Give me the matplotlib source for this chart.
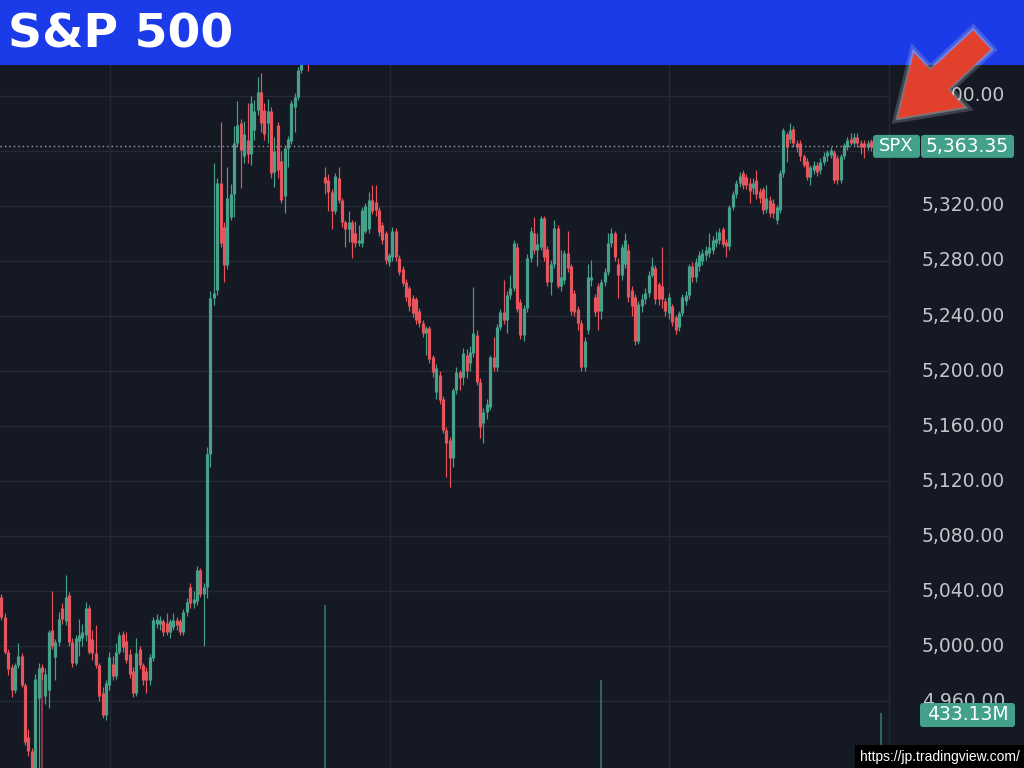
import matplotlib
matplotlib.use('Agg')
import matplotlib.pyplot as plt
from matplotlib.patches import Rectangle, FancyBboxPatch, FancyArrow
import matplotlib.patheffects as pe
import numpy as np

# ---------------- data (price) ----------------
opens = [
    5036, 5021, 4996, 4985, 4968, 4986, 4993, 4972, 4934, 4924,
    4905, 4962, 4985, 4964, 4968, 5012, 4992, 5003, 5028, 5018,
    5037, 5003, 4988, 5004, 5006, 5008, 5028, 5005, 4995, 4986,
    4966, 4950, 4972, 4987, 4978, 4996, 5009, 5004, 4994, 4982,
    4966, 4998, 4986, 4982, 4975, 4991, 5016, 5016, 5018, 5017,
    5010, 5014, 5019, 5018, 5010, 5025, 5043, 5031, 5033, 5055,
    5038, 5043, 5140, 5253, 5259, 5337, 5305, 5277, 5312, 5329,
    5366, 5380, 5356, 5368, 5358, 5375, 5390, 5403, 5390, 5380,
    5389, 5345, 5379, 5353, 5327, 5362, 5367, 5392, 5399, 5419,
    5432, 5445, 5436, 5448, 5452, 5458, 5341, 5339, 5330, 5316,
    5340, 5324, 5308, 5303, 5308, 5300, 5293, 5293, 5302, 5303,
    5324, 5323, 5317, 5306, 5300, 5279, 5283, 5302, 5282, 5274,
    5265, 5260, 5253, 5252, 5244, 5235, 5228, 5231, 5210, 5185,
    5197, 5180, 5157, 5150, 5137, 5186, 5199, 5196, 5212, 5206,
    5213, 5226, 5192, 5162, 5170, 5174, 5210, 5203, 5232, 5243,
    5237, 5255, 5260, 5290, 5250, 5226, 5246, 5282, 5300, 5288,
    5290, 5311, 5289, 5265, 5278, 5304, 5262, 5266, 5286, 5276,
    5257, 5245, 5235, 5203, 5230, 5266, 5254, 5262, 5244, 5265,
    5272, 5293, 5300, 5278, 5270, 5278, 5288, 5259, 5254, 5222,
    5247, 5252, 5257, 5270, 5275, 5263, 5262, 5251, 5242, 5247,
    5239, 5232, 5242, 5251, 5255, 5276, 5268, 5276, 5280, 5284,
    5286, 5288, 5293, 5295, 5303, 5294, 5291, 5319, 5329, 5337,
    5344, 5341, 5337, 5333, 5339, 5331, 5332, 5318, 5324, 5322,
    5310, 5317, 5344, 5372, 5369, 5376, 5366, 5366, 5356, 5353,
    5341, 5346, 5350, 5346, 5352, 5356, 5357, 5359, 5355, 5339,
    5356, 5363, 5369, 5366, 5370, 5366, 5366, 5363, 5367, 5363,
    5365, 5362]
highs = [
    5038, 5024, 4998, 4987, 4988, 5002, 4995, 4973, 4940, 4926,
    4980, 4988, 4987, 4984, 5012, 5040, 5005, 5025, 5031, 5052,
    5039, 5006, 5008, 5020, 5016, 5032, 5030, 5012, 5015, 4988,
    4970, 4975, 4996, 4993, 5002, 5010, 5011, 5010, 4998, 4985,
    5006, 5000, 4988, 4985, 4994, 5021, 5023, 5022, 5020, 5024,
    5020, 5024, 5021, 5020, 5027, 5035, 5046, 5040, 5058, 5057,
    5046, 5145, 5258, 5351, 5340, 5381, 5308, 5348, 5336, 5378,
    5396, 5383, 5382, 5395, 5400, 5397, 5414, 5417, 5395, 5398,
    5392, 5370, 5381, 5360, 5364, 5371, 5397, 5402, 5421, 5440,
    5450, 5452, 5455, 5462, 5466, 5465, 5348, 5343, 5332, 5344,
    5348, 5326, 5310, 5316, 5310, 5309, 5306, 5319, 5322, 5330,
    5335, 5335, 5319, 5308, 5302, 5286, 5305, 5304, 5284, 5276,
    5267, 5262, 5255, 5254, 5246, 5237, 5233, 5233, 5212, 5205,
    5200, 5182, 5159, 5152, 5188, 5203, 5201, 5217, 5216, 5218,
    5261, 5230, 5195, 5173, 5180, 5212, 5225, 5234, 5245, 5266,
    5258, 5270, 5295, 5293, 5252, 5248, 5285, 5305, 5312, 5300,
    5313, 5313, 5291, 5281, 5310, 5306, 5288, 5288, 5302, 5278,
    5259, 5247, 5237, 5225, 5278, 5281, 5256, 5264, 5267, 5275,
    5300, 5304, 5302, 5282, 5292, 5300, 5292, 5262, 5256, 5251,
    5256, 5260, 5273, 5283, 5277, 5265, 5290, 5253, 5257, 5249,
    5241, 5244, 5256, 5258, 5278, 5279, 5282, 5287, 5289, 5291,
    5300, 5298, 5302, 5304, 5305, 5296, 5321, 5331, 5339, 5345,
    5346, 5343, 5340, 5340, 5346, 5333, 5334, 5335, 5327, 5325,
    5321, 5346, 5377, 5374, 5380, 5378, 5368, 5368, 5358, 5355,
    5350, 5353, 5352, 5355, 5359, 5361, 5363, 5361, 5357, 5358,
    5366, 5370, 5373, 5373, 5373, 5368, 5368, 5368, 5369, 5367,
    5366, 5365]
lows = [
    5019, 4994, 4979, 4963, 4966, 4984, 4970, 4928, 4920, 4890,
    4895, 4905, 4975, 4958, 4955, 4998, 4975, 5000, 5016, 5015,
    5000, 4985, 4986, 4993, 5000, 5004, 4994, 4990, 4984, 4960,
    4948, 4946, 4968, 4975, 4976, 4994, 4996, 4988, 4977, 4963,
    4964, 4983, 4972, 4966, 4972, 4989, 5013, 5012, 5007, 5008,
    5006, 5012, 5012, 5008, 5008, 5022, 5028, 5028, 5030, 5036,
    5000, 5035, 5130, 5248, 5255, 5290, 5265, 5274, 5310, 5312,
    5363, 5333, 5351, 5351, 5350, 5368, 5386, 5374, 5368, 5366,
    5340, 5334, 5340, 5322, 5315, 5348, 5365, 5374, 5397, 5417,
    5428, 5418, 5432, 5440, 5445, 5447, 5329, 5316, 5303, 5314,
    5322, 5305, 5290, 5294, 5282, 5290, 5291, 5290, 5300, 5300,
    5314, 5313, 5298, 5292, 5278, 5276, 5280, 5280, 5270, 5262,
    5251, 5244, 5239, 5234, 5232, 5225, 5212, 5206, 5196, 5180,
    5176, 5155, 5123, 5116, 5130, 5183, 5186, 5190, 5195, 5200,
    5210, 5190, 5151, 5148, 5165, 5172, 5200, 5200, 5230, 5234,
    5228, 5252, 5258, 5243, 5223, 5222, 5243, 5279, 5285, 5276,
    5288, 5280, 5262, 5255, 5275, 5260, 5258, 5263, 5272, 5241,
    5240, 5230, 5200, 5200, 5227, 5262, 5240, 5230, 5238, 5262,
    5270, 5290, 5280, 5253, 5266, 5275, 5250, 5240, 5219, 5220,
    5243, 5249, 5254, 5268, 5249, 5248, 5246, 5240, 5238, 5233,
    5227, 5229, 5240, 5248, 5252, 5265, 5265, 5273, 5277, 5281,
    5283, 5285, 5290, 5292, 5290, 5283, 5288, 5317, 5326, 5334,
    5332, 5332, 5322, 5329, 5325, 5322, 5314, 5315, 5312, 5311,
    5307, 5315, 5341, 5352, 5366, 5363, 5359, 5353, 5348, 5339,
    5335, 5343, 5342, 5343, 5350, 5353, 5355, 5337, 5336, 5337,
    5354, 5361, 5364, 5364, 5363, 5358, 5355, 5361, 5360, 5361,
    5360, 5358]
closes = [
    5021, 4996, 4983, 4968, 4986, 4993, 4972, 4930, 4924, 4905,
    4976, 4984, 4981, 4980, 5010, 5000, 5003, 5020, 5020, 5036,
    5003, 4988, 5006, 5008, 5010, 5028, 4996, 4995, 4986, 4964,
    4950, 4973, 4992, 4978, 4996, 5008, 4999, 4990, 4980, 4966,
    4995, 4986, 4975, 4975, 4992, 5019, 5020, 5019, 5010, 5010,
    5018, 5019, 5015, 5010, 5025, 5032, 5031, 5034, 5055, 5038,
    5043, 5140, 5253, 5257, 5337, 5293, 5277, 5326, 5329, 5366,
    5379, 5361, 5372, 5358, 5395, 5389, 5403, 5380, 5372, 5389,
    5344, 5360, 5346, 5324, 5362, 5369, 5395, 5399, 5419, 5432,
    5445, 5436, 5448, 5452, 5458, 5456, 5337, 5330, 5316, 5342,
    5324, 5308, 5303, 5308, 5294, 5293, 5295, 5317, 5320, 5324,
    5316, 5317, 5301, 5295, 5281, 5284, 5302, 5283, 5272, 5264,
    5254, 5247, 5242, 5237, 5235, 5228, 5231, 5209, 5199, 5202,
    5179, 5157, 5148, 5137, 5186, 5199, 5195, 5213, 5200, 5214,
    5228, 5192, 5159, 5170, 5176, 5210, 5203, 5232, 5243, 5237,
    5255, 5260, 5293, 5245, 5226, 5246, 5282, 5302, 5288, 5292,
    5311, 5283, 5265, 5278, 5304, 5262, 5268, 5286, 5275, 5244,
    5243, 5235, 5203, 5222, 5268, 5268, 5243, 5244, 5265, 5272,
    5293, 5300, 5283, 5270, 5290, 5295, 5254, 5247, 5222, 5249,
    5252, 5257, 5270, 5276, 5252, 5252, 5252, 5244, 5254, 5236,
    5230, 5242, 5254, 5255, 5276, 5268, 5279, 5284, 5286, 5288,
    5290, 5295, 5296, 5301, 5292, 5291, 5319, 5329, 5337, 5342,
    5335, 5335, 5331, 5337, 5329, 5326, 5317, 5326, 5315, 5315,
    5319, 5344, 5375, 5363, 5375, 5366, 5363, 5356, 5350, 5341,
    5348, 5350, 5345, 5352, 5356, 5359, 5361, 5339, 5339, 5356,
    5364, 5368, 5366, 5370, 5366, 5363, 5363, 5366, 5363, 5365,
    5362, 5363.35]

# volume spikes visible above the bottom edge (millions)
vol_bar = [12, 96, 178, 261]
vol_val = [662, 971, 598, 433.13]
vol_up = [False, True, True, True]

price_ticks = [4960, 5000, 5040, 5080, 5120, 5160, 5200, 5240,
               5280, 5320, 5360, 5400, 5440]
# 5,360 sits under the last-price tag and 5,440 under the header
label_ticks = [4960, 5000, 5040, 5080, 5120, 5160, 5200, 5240,
               5280, 5320, 5400]
time_grid = [32.2, 115.3, 198.1]   # vertical grid positions (bar units)
symbol = "SPX"
last_price = 5363.35
last_volume_label = "433.13M"
title = "S&P 500"
url = "https://jp.tradingview.com/"

# ---------------- style ----------------
BG = '#151924'
GRID = '#252935'
UP = '#45a18a'
DOWN = '#e5555b'
TAG = '#43a08a'
LBL = '#c3c5cc'

W, H = 1024, 768
Y_TOP, Y_BOT = 5469.8, 4911.3
X_LEFT, X_RIGHT = -0.445, 263.35

fig = plt.figure(figsize=(10.24, 7.68), dpi=100, facecolor=BG)
ax = fig.add_axes([0, 0, 889 / W, 1])
ax.set_facecolor(BG)
ax.set_xlim(X_LEFT, X_RIGHT)
ax.set_ylim(Y_BOT, Y_TOP)
ax.set_yticks(price_ticks)
ax.set_xticks(time_grid)
ax.grid(True, color=GRID, lw=1.0, zorder=0)
ax.tick_params(length=0, labelleft=False, labelbottom=False)
for s in ['top', 'left', 'bottom']:
    ax.spines[s].set_visible(False)
ax.spines['right'].set_color(GRID)
ax.spines['right'].set_linewidth(1.0)

o = np.array(opens, float)
h = np.array(highs, float)
l = np.array(lows, float)
c = np.array(closes, float)
xs = np.arange(len(o))
up = c >= o
cols = np.where(up, UP, DOWN)
body_lo = np.minimum(o, c)
body_hi = np.maximum(np.maximum(o, c), body_lo + 0.9)

# volume (overlay pane at the bottom, mostly below the visible area)
axv = ax.twinx()
axv.set_ylim(159.4, 3984)
vcols = [UP if u else DOWN for u in vol_up]
axv.bar(vol_bar, vol_val, width=0.6, color=vcols, alpha=0.55, lw=0, zorder=1)
axv.axis('off')

# wicks and bodies
ax.vlines(xs, l, h, colors=cols, lw=0.85, zorder=2)
ax.vlines(xs, body_lo, body_hi, colors=cols, lw=2.3, zorder=3,
          capstyle='butt')

# dotted last-price line
ax.hlines(last_price, X_LEFT, (873 - 1.5) / 3.37, colors='#9aa0aa',
          linestyles=(0, (1, 2.2)), lw=1.0, zorder=4)

# ---------------- overlay (pixel coordinates) ----------------
ov = fig.add_axes([0, 0, 1, 1])
ov.set_xlim(0, W)
ov.set_ylim(H, 0)
ov.axis('off')
ov.patch.set_alpha(0)


def ypix(p):
    return (Y_TOP - p) / (Y_TOP - Y_BOT) * H


for p in label_ticks:
    ov.text(1005, ypix(p), f'{p:,.2f}', ha='right', va='center',
            color=LBL, fontsize=13.5, zorder=1)

# last price tag
yl = ypix(last_price)
ov.add_patch(FancyBboxPatch((873, yl - 11.5), 47, 23,
                            boxstyle='round,pad=0,rounding_size=3',
                            fc=TAG, ec='none', zorder=3))
ov.add_patch(FancyBboxPatch((921, yl - 11.5), 93, 23,
                            boxstyle='round,pad=0,rounding_size=3',
                            fc=TAG, ec='none', zorder=3))
ov.text(896.5, yl, symbol, ha='center', va='center', color='white',
        fontsize=13, zorder=4)
ov.text(967.5, yl, f'{last_price:,.2f}', ha='center', va='center',
        color='white', fontsize=13.5, zorder=4)

# volume tag
ov.add_patch(FancyBboxPatch((920, 703), 95, 24,
                            boxstyle='round,pad=0,rounding_size=3',
                            fc=TAG, ec='none', zorder=3))
ov.text(967.5, 715, last_volume_label, ha='center', va='center',
        color='white', fontsize=13.5, zorder=4)

# header
ov.add_patch(Rectangle((0, 0), W, 65, fc='#1b3be8', ec='none', zorder=5))
ov.text(8, 48, title, ha='left', va='baseline', color='white',
        fontsize=34, fontweight='bold', family='DejaVu Sans', zorder=6)

# red arrow with a soft light halo
arr = FancyArrow(982, 40, -84, 78, width=26, head_width=74, head_length=56,
                 length_includes_head=True, fc='#e1412c', ec='none',
                 zorder=7)
arr.set_path_effects([pe.withStroke(linewidth=7, foreground='#cfd2d8',
                                    alpha=0.22),
                      pe.withStroke(linewidth=3, foreground='#e6e8ec',
                                    alpha=0.3)])
ov.add_patch(arr)

# url box
ov.add_patch(Rectangle((855, 745), W - 855, 23, fc='black', ec='none',
                       zorder=8))
ov.text(1020, 757, url, ha='right', va='center', color='white',
        fontsize=10, family='Liberation Sans', zorder=9)

fig.savefig('out.png', dpi=100, facecolor=BG)
